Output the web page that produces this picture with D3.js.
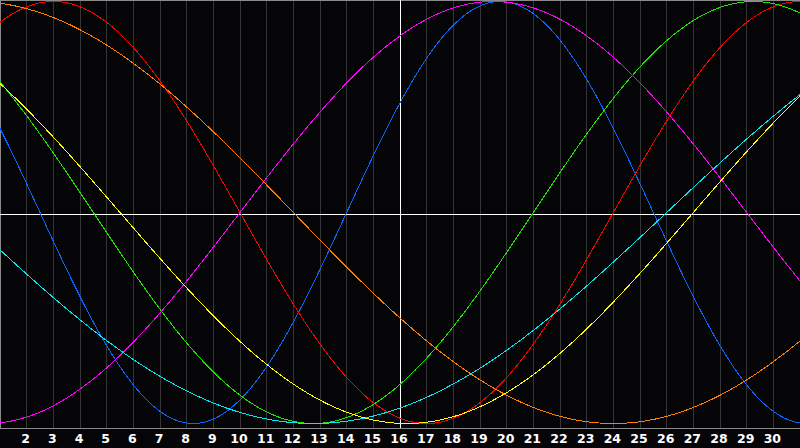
<!DOCTYPE html>
<html>
<head>
<meta charset="utf-8">
<script src="https://cdn.jsdelivr.net/npm/d3@7"></script>
<style>
  html, body { margin: 0; padding: 0; background: #050508; }
  svg { display: block; }
</style>
</head>
<body>
<div id="chart"></div>
<script>
// biorhythm chart, 30 days shown, day 16 is "today"
let width = 800, height = 448

// cycles drawn, their length in days and where each one stands on day 16
// (days into the cycle)
let cycles = ['physical', 'emotional', 'intellectual', 'intuitive', 'aesthetic', 'awareness', 'spiritual']
let periods = [23, 28, 33, 38, 43, 48, 53]
let phaseToday = [2, 20, 28, 6, 32, 28, 43]
let colors = ['#0a66ff', '#ff0000', '#1ee600', '#ff00ff', '#ffff00', '#ff8000', '#00e8f0']

let days = d3.range(2, 31) // tick labels 2..30
let today = 16

let svg = d3.select('#chart')
  .append('svg')
  .attr('width', width)
  .attr('height', height)

svg.append('rect')
  .attr('width', width)
  .attr('height', height)
  .style('fill', '#050508')

let x = d3.scaleLinear().domain([1, 31]).range([0, 800])
let y = d3.scaleLinear().domain([-1, 1]).range([423.5, 1.5])

// vertical day grid
svg.selectAll('.grid')
  .data(days)
  .enter().append('line')
    .attr('class', 'grid')
    .attr('x1', d => Math.floor(x(d)) + 0.5)
    .attr('x2', d => Math.floor(x(d)) + 0.5)
    .attr('y1', 0)
    .attr('y2', 428)
    .style('stroke', '#353537')
    .style('stroke-width', 1)
    .style('shape-rendering', 'crispEdges')

// frame: top, left, bottom
let frame = svg.append('g')
  .style('stroke', '#8a8a8a')
  .style('shape-rendering', 'crispEdges')
frame.append('line').attr('x1', 0).attr('x2', 800).attr('y1', 0.5).attr('y2', 0.5)
frame.append('line').attr('x1', 0.5).attr('x2', 0.5).attr('y1', 0).attr('y2', 429)
frame.append('line').attr('x1', 0).attr('x2', 800).attr('y1', 428.5).attr('y2', 428.5)

// today line and zero line
svg.append('line')
  .attr('x1', x(today) + 0.5).attr('x2', x(today) + 0.5)
  .attr('y1', 0).attr('y2', 428)
  .style('stroke', '#ffffff')
  .style('shape-rendering', 'crispEdges')
svg.append('line')
  .attr('x1', 0).attr('x2', 800)
  .attr('y1', 214.5).attr('y2', 214.5)
  .style('stroke', '#ffffff')
  .style('shape-rendering', 'crispEdges')

// curves
let samples = d3.range(1, 31.001, 0.05)
let line = d3.line()
  .x(d => x(d[0]))
  .y(d => y(d[1]))

cycles.forEach((c, i) => {
  let pts = samples.map(d => {
    let ph = phaseToday[i] + (d - today)
    return [d, Math.sin(2 * Math.PI * ph / periods[i])]
  })
  svg.append('path')
    .datum(pts)
    .attr('class', 'cycle ' + c)
    .attr('d', line)
    .style('fill', 'none')
    .style('stroke', colors[i])
    .style('stroke-width', 1)
    .style('shape-rendering', 'crispEdges')
})

// day labels
svg.selectAll('.day')
  .data(days)
  .enter().append('text')
    .attr('class', 'day')
    .attr('x', d => x(d) - 1)
    .attr('y', 443)
    .text(d => d)
    .style('fill', '#ffffff')
    .style('font-family', '"DejaVu Sans", sans-serif')
    .style('font-weight', 'bold')
    .style('font-size', '12.5px')
    .style('text-anchor', 'middle')
</script>
</body>
</html>
